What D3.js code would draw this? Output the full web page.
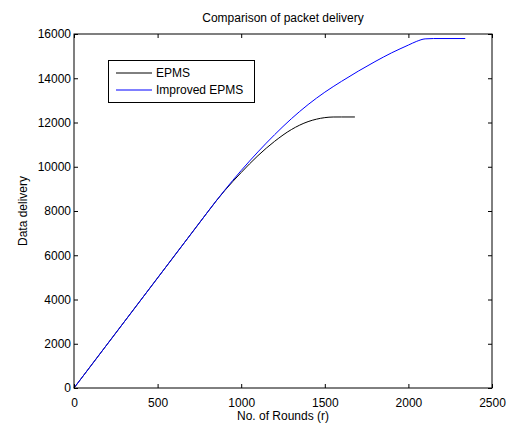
<!DOCTYPE html>
<html><head><meta charset="utf-8">
<script src="https://cdn.jsdelivr.net/npm/d3@7"></script>
<style>body{margin:0;background:#fff;}text{font-family:"Liberation Sans",Arial,sans-serif;}</style>
</head><body>
<script>
const rounds = [0,100,200,300,400,500,600,700,800,850,900,1000,1100,1200,1300,1400,1450,1500,1550,1600,1680];
const epms =   [0,995,1990,2985,3980,4975,5970,6965,7960,8450,8910,9740,10500,11150,11680,12040,12150,12220,12248,12250,12250];
const roundsImp = [0,100,200,300,400,500,600,700,800,850,900,1000,1100,1200,1300,1400,1500,1600,1700,1800,1900,2000,2050,2100,2150,2340];
const improved =  [0,995,1990,2985,3980,4975,5970,6965,7960,8455,8930,9830,10670,11450,12170,12810,13370,13860,14320,14750,15150,15500,15670,15780,15795,15795];
const xTicks = [0,500,1000,1500,2000,2500];
const yTicks = [0,2000,4000,6000,8000,10000,12000,14000,16000];
const seriesNames = ["EPMS","Improved EPMS"];
const colors = ["#000000","#0000ff"];

const W=512,H=423, L=74,R=492,T=34,B=388;
const svg=d3.select("body").append("svg").attr("width",W).attr("height",H);
const x=d3.scaleLinear().domain([0,2500]).range([L,R]);
const y=d3.scaleLinear().domain([0,16000]).range([B,T]);

const line=d3.line().x(d=>x(d[0])).y(d=>y(d[1])).curve(d3.curveMonotoneX);
const s1=rounds.map((r,i)=>[r,epms[i]]);
const s2=roundsImp.map((r,i)=>[r,improved[i]]);
svg.append("path").attr("d",line(s1)).attr("fill","none").attr("stroke",colors[0]).attr("stroke-width",1);
svg.append("path").attr("d",line(s2)).attr("fill","none").attr("stroke",colors[1]).attr("stroke-width",1);

// axes
const fs=12;
const fmt=d3.format("d");
const gx=svg.append("g").attr("transform",`translate(0,${B})`).call(d3.axisBottom(x).tickValues(xTicks).tickSize(-4).tickPadding(10).tickFormat(fmt));
const gxt=svg.append("g").attr("transform",`translate(0,${T})`).call(d3.axisTop(x).tickValues(xTicks).tickSize(-4).tickFormat(""));
const gy=svg.append("g").attr("transform",`translate(${L},0)`).call(d3.axisLeft(y).tickValues(yTicks).tickSize(-4).tickPadding(3).tickFormat(fmt));
const gyr=svg.append("g").attr("transform",`translate(${R},0)`).call(d3.axisRight(y).tickValues(yTicks).tickSize(-4).tickFormat(""));
[gx,gxt,gy,gyr].forEach(g=>{g.select(".domain").remove();g.selectAll("line").attr("stroke","#000");g.selectAll("text").attr("font-size",fs).attr("fill","#000").attr("font-family","Liberation Sans, Arial, sans-serif");});
svg.append("rect").attr("x",L).attr("y",T).attr("width",R-L).attr("height",B-T).attr("fill","none").attr("stroke","#000").attr("stroke-width",1);

svg.append("text").attr("x",(L+R)/2).attr("y",22).attr("text-anchor","middle").attr("font-size",fs).text("Comparison of packet delivery");
svg.append("text").attr("x",(L+R)/2).attr("y",419.5).attr("text-anchor","middle").attr("font-size",fs).text("No. of Rounds (r)");
svg.append("text").attr("transform",`translate(27,${(T+B)/2}) rotate(-90)`).attr("text-anchor","middle").attr("font-size",fs).text("Data delivery");

// legend
const lg=svg.append("g");
lg.append("rect").attr("x",108.5).attr("y",60.5).attr("width",146).attr("height",42).attr("fill","#fff").attr("stroke","#000");
seriesNames.forEach((n,i)=>{
  const yy=73+i*17;
  lg.append("path").attr("d",`M116,${yy}H152`).attr("fill","none").attr("stroke",colors[i]).attr("stroke-width",1);
  lg.append("text").attr("x",156).attr("y",yy+4).attr("font-size",fs).text(n);
});
</script>
</body></html>
